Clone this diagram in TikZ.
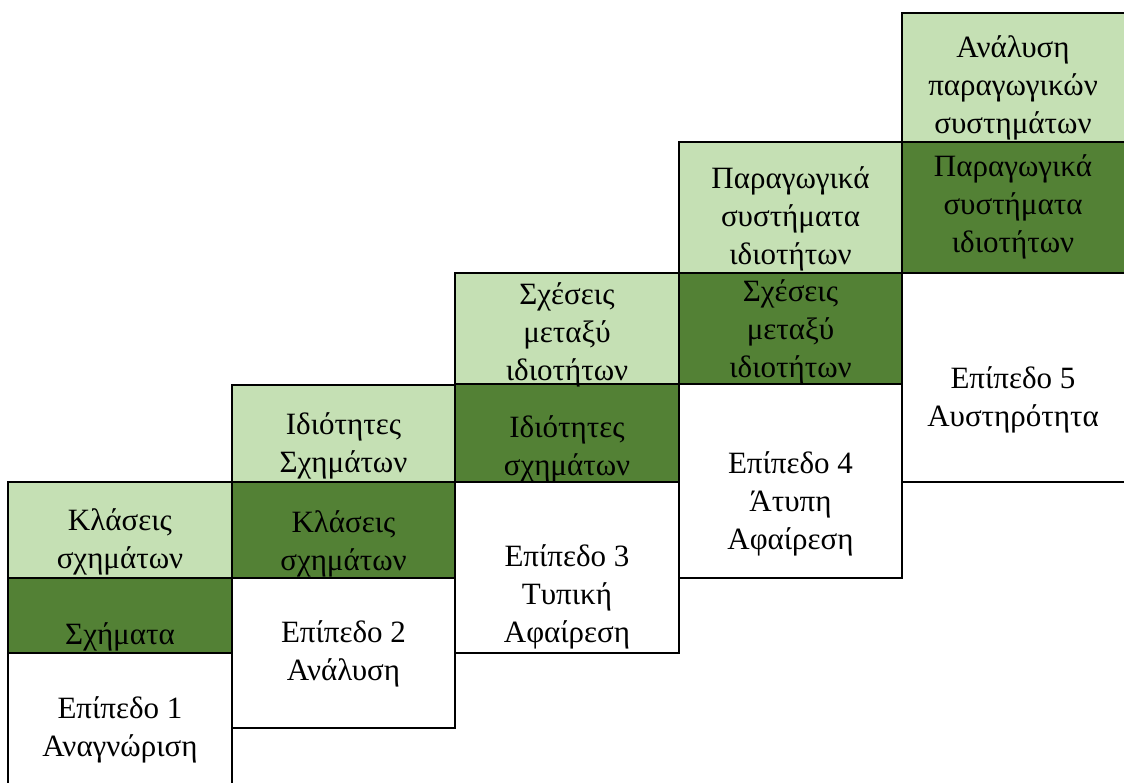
\documentclass[tikz,border=0pt]{standalone}
\usepackage{fontspec}
\setmainfont{Liberation Serif}
\usepackage{tikz}
\usetikzlibrary{positioning}
\definecolor{vhknown}{RGB}{197,224,180}
\definecolor{vhstudied}{RGB}{83,129,53}

\begin{document}
\begin{tikzpicture}[
    x=1pt, y=-1pt,
    font=\fontsize{31}{38}\selectfont,
    node distance=0pt,
    cell/.style={draw=black, line width=1.3pt, outer sep=0pt, inner sep=0pt, minimum width=224pt, anchor=north west},
    known/.style={cell, fill=vhknown},
    studied/.style={cell, fill=vhstudied},
    stage/.style={cell, fill=white},
    txt/.style={align=center, inner sep=0pt, text=black}
  ]
    \clip (0,0) rectangle (1124,782);
    \fill[white] (0,0) rectangle (1124,782);

    % Level 1
    \node[known, minimum height=96pt] (known1) at (8,482) {};
    \node[studied, minimum height=75pt, below=of known1] (studied1) {};
    \node[stage, minimum height=200pt, below=of studied1] (stage1) {};

    % Level 2
    \node[known, minimum width=223pt, minimum height=97pt] (known2) at (232,385) {};
    \node[studied, minimum width=223pt, minimum height=96pt, below=of known2] (studied2) {};
    \node[stage, minimum width=223pt, minimum height=150pt, below=of studied2] (stage2) {};

    % Level 3
    \node[known, minimum height=111pt] (known3) at (455,273) {};
    \node[studied, minimum height=98pt, below=of known3] (studied3) {};
    \node[stage, minimum height=171pt, below=of studied3] (stage3) {};

    % Level 4
    \node[known, minimum width=223pt, minimum height=131pt] (known4) at (679,142) {};
    \node[studied, minimum width=223pt, minimum height=111pt, below=of known4] (studied4) {};
    \node[stage, minimum width=223pt, minimum height=194pt, below=of studied4] (stage4) {};

    % Level 5 (runs past the right edge)
    \node[known, minimum width=240pt, minimum height=129pt] (known5) at (902,13) {};
    \node[studied, minimum width=240pt, minimum height=131pt, below=of known5] (studied5) {};
    \node[stage, minimum width=240pt, minimum height=209pt, below=of studied5] (stage5) {};

    % texts
    \node[txt] (classes1) at (120,542) {Κλάσεις\\σχημάτων};
    \node[txt] (shapes1) at (120,637) {Σχήματα};
    \node[txt] (level1) at (120,730) {Επίπεδο 1\\Αναγνώριση};

    \node[txt] (props2) at (343.5,446) {Ιδιότητες\\Σχημάτων};
    \node[txt] (classes2) at (343.5,544) {Κλάσεις\\σχημάτων};
    \node[txt] (level2) at (343.5,654) {Επίπεδο 2\\Ανάλυση};

    \node[txt] (relations3) at (567,335) {Σχέσεις\\μεταξύ\\ιδιοτήτων};
    \node[txt] (props3) at (567,449) {Ιδιότητες\\σχημάτων};
    \node[txt] (level3) at (567,597) {Επίπεδο 3\\Τυπική\\Αφαίρεση};

    \node[txt] (systems4) at (790.5,219) {Παραγωγικά\\συστήματα\\ιδιοτήτων};
    \node[txt] (relations4) at (790.5,332) {Σχέσεις\\μεταξύ\\ιδιοτήτων};
    \node[txt] (level4) at (790.5,504) {Επίπεδο 4\\Άτυπη\\Αφαίρεση};

    \node[txt] (analysis5) at (1013,88) {Ανάλυση\\παραγωγικών\\συστημάτων};
    \node[txt] (systems5) at (1013,207) {Παραγωγικά\\συστήματα\\ιδιοτήτων};
    \node[txt] (level5) at (1013,400) {Επίπεδο 5\\Αυστηρότητα};

  \end{tikzpicture}
\end{document}
